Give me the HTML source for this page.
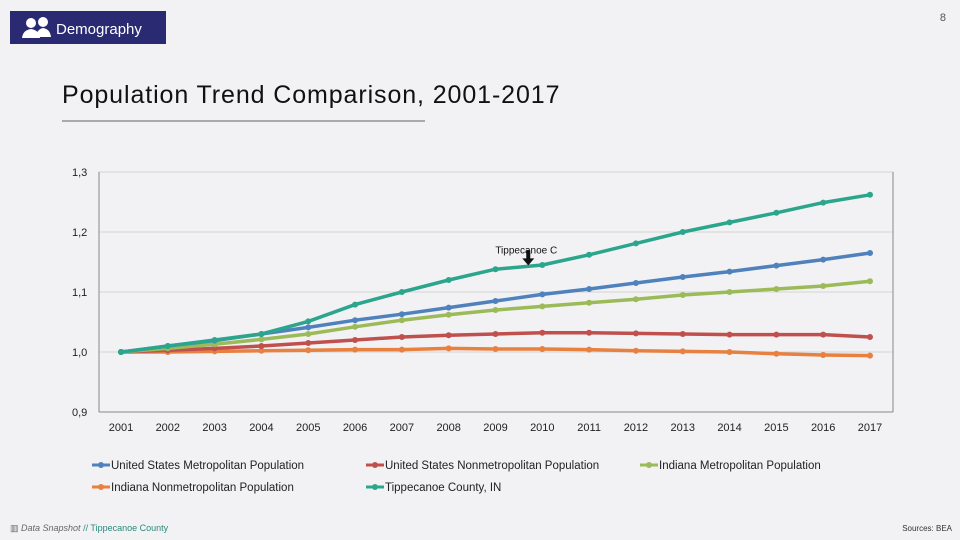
<!DOCTYPE html>
<html><head><meta charset="utf-8"><style>
body{margin:0;width:960px;height:540px;background:#f2f2f4;font-family:"Liberation Sans",sans-serif;overflow:hidden;position:relative}
.hdr{position:absolute;left:10px;top:11px;width:156px;height:33px;background:#2a2a72;color:#fff;font-size:15px}
.hdr span{position:absolute;left:46px;top:10px}
.title{position:absolute;left:62px;top:81px;font-size:25px;letter-spacing:0.9px;color:#111}
.rule{position:absolute;left:62px;top:120px;width:363px;height:2px;background:#aaa}
.pg{position:absolute;right:14px;top:12px;font-size:11px;color:#555}
.foot{position:absolute;left:10px;top:523px;font-size:9px;color:#666}
.src{position:absolute;right:8px;top:524px;font-size:8px;color:#333}
</style></head><body>
<div class="hdr">
<svg width="40" height="33" style="position:absolute;left:6px;top:0"><g fill="#fff"><circle cx="15" cy="12" r="5"/><path d="M6 27 Q7 19 15 18 Q23 19 24 27Z"/><circle cx="27" cy="11" r="5"/><path d="M20 26 Q21 18 27 17 Q34 18 35 26Z"/></g></svg>
<span>Demography</span></div>
<div class="pg">8</div>
<div class="title">Population Trend Comparison, 2001-2017</div>
<div class="rule"></div>
<svg id="c" width="960" height="540" style="position:absolute;left:0;top:0"></svg>
<div class="foot">▥ <i>Data Snapshot</i> <span style="color:#2a8a7a">// Tippecanoe County</span></div>
<div class="src">Sources: BEA</div>
<script>
const years=[2001,2002,2003,2004,2005,2006,2007,2008,2009,2010,2011,2012,2013,2014,2015,2016,2017];
const yTicks=[0.9,1.0,1.1,1.2,1.3];
const usMetro=[1.0,1.01,1.019,1.03,1.041,1.053,1.063,1.074,1.085,1.096,1.105,1.115,1.125,1.134,1.144,1.154,1.165];
const usNonmetro=[1.0,1.003,1.006,1.01,1.015,1.02,1.025,1.028,1.03,1.032,1.032,1.031,1.03,1.029,1.029,1.029,1.025];
const inMetro=[1.0,1.006,1.013,1.021,1.03,1.042,1.053,1.062,1.07,1.076,1.082,1.088,1.095,1.1,1.105,1.11,1.118];
const inNonmetro=[1.0,1.0,1.001,1.002,1.003,1.004,1.004,1.006,1.005,1.005,1.004,1.002,1.001,1.0,0.997,0.995,0.994];
const tippecanoe=[1.0,1.01,1.02,1.03,1.051,1.079,1.1,1.12,1.138,1.145,1.162,1.181,1.2,1.216,1.232,1.249,1.262];
const seriesNames=["United States Metropolitan Population","United States Nonmetropolitan Population","Indiana Metropolitan Population","Indiana Nonmetropolitan Population","Tippecanoe County, IN"];
const series=[usMetro,usNonmetro,inMetro,inNonmetro,tippecanoe];
const colors=["#4f81bd","#c0504d","#9bbb59","#e8803f","#2ca58d"];
const svg=document.getElementById('c');const NS="http://www.w3.org/2000/svg";
const L=99,R=893,T=172,B=412,ymin=0.9,ymax=1.3;
const x=i=>121+i*(870-121)/(years.length-1);
const y=v=>B-(v-ymin)/(ymax-ymin)*(B-T);
function mk(t,a,p){const e=document.createElementNS(NS,t);for(const k in a)e.setAttribute(k,a[k]);(p||svg).appendChild(e);return e;}
let e;
yTicks.forEach(t=>{
 e=mk('line',{x1:L,x2:R,y1:y(t),y2:y(t),stroke:'#d4d4d4','stroke-width':1});
 
 
 e=mk('text',{x:72,y:y(t)+4,'font-size':11,fill:'#222'});e.textContent=t.toFixed(1).replace('.',',');
 
 
});
e=mk('line',{x1:L,x2:L,y1:T,y2:B,stroke:'#888'});


e=mk('line',{x1:R,x2:R,y1:T,y2:B,stroke:'#888'});


e=mk('line',{x1:L,x2:R,y1:B,y2:B,stroke:'#888'});


years.forEach((yr,i)=>{
 e=mk('text',{x:x(i),y:431,'font-size':11,fill:'#222','text-anchor':'middle'});e.textContent=yr;
 
 
});
[3,1,2,0,4].forEach(s=>{
 const d=series[s];
 e=mk('polyline',{points:d.map((v,i)=>x(i)+','+y(v)).join(' '),fill:'none',stroke:colors[s],'stroke-width':3.5});
 
 
 d.forEach((v,i)=>{
  e=mk('circle',{cx:x(i),cy:y(v),r:3,fill:colors[s]});
  
  
 });
});
const ai=8.7, av=1.141;
e=mk('text',{x:x(ai)-2,y:y(av)-14,'font-size':10,fill:'#111','text-anchor':'middle'});e.textContent='Tippecanoe C';


const ax=x(ai),ay=y(av)-3;
e=mk('path',{d:`M${ax-2} ${ay-14}h4v8h4l-6 7l-6-7h4z`,fill:'#111'});


const lp=[[92,466],[366,466],[640,466],[92,488],[366,488]];
seriesNames.forEach((n,s)=>{
 const [lx,ly]=lp[s];
 e=mk('line',{x1:lx,x2:lx+18,y1:ly-1,y2:ly-1,stroke:colors[s],'stroke-width':3});
 
 
 mk('circle',{cx:lx+9,cy:ly-1,r:3,fill:colors[s]});
 e=mk('text',{x:lx+19,y:ly+3,'font-size':11.5,fill:'#222'});e.textContent=n;
 
 
});
</script>
</body></html>
